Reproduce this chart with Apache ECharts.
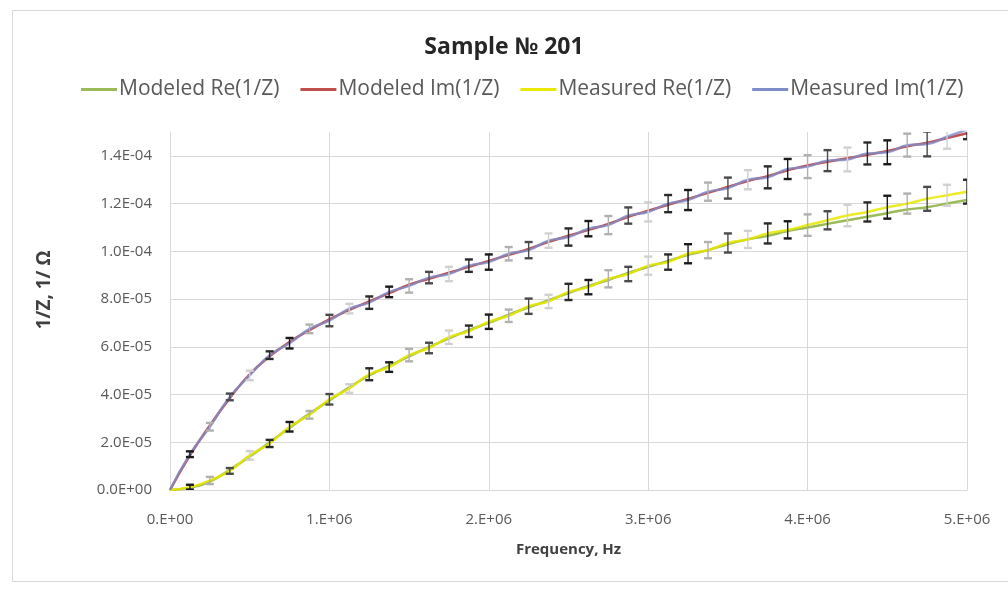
<!DOCTYPE html>
<html>
<head>
<meta charset="utf-8">
<script src="https://cdn.jsdelivr.net/npm/echarts@6/dist/echarts.min.js"></script>
<style>
html,body{margin:0;padding:0;background:#fff;}
#c{width:1008px;height:589px;}
</style>
</head>
<body>
<div id="c"></div>
<script>
// Frequency in MHz (axis labels show Hz in E notation)
const freq = [0,0.125,0.25,0.375,0.5,0.625,0.75,0.875,1,1.125,1.25,1.375,1.5,1.625,1.75,1.875,2,2.125,2.25,2.375,2.5,2.625,2.75,2.875,3,3.125,3.25,3.375,3.5,3.625,3.75,3.875,4,4.125,4.25,4.375,4.5,4.625,4.75,4.875,5];
// Values in units of 1e-5 (1/Ohm)
const modeledRe = [0,0.1,0.35,0.85,1.4,2.0,2.6,3.2,3.75,4.3,4.8,5.2,5.6,6.0,6.35,6.7,7.0,7.35,7.65,7.95,8.25,8.55,8.8,9.1,9.35,9.6,9.85,10.05,10.3,10.5,10.65,10.85,11.0,11.15,11.3,11.45,11.6,11.75,11.85,12.0,12.15];
const modeledIm = [0,1.45,2.7,3.85,4.85,5.6,6.2,6.7,7.15,7.55,7.9,8.25,8.6,8.85,9.1,9.35,9.6,9.85,10.1,10.4,10.65,10.9,11.15,11.45,11.7,11.95,12.2,12.45,12.7,12.95,13.15,13.4,13.6,13.75,13.9,14.05,14.2,14.4,14.55,14.75,14.95];
const measuredRe = [0,0.12,0.4,0.8,1.45,1.95,2.65,3.15,3.8,4.25,4.85,5.15,5.65,5.95,6.4,6.65,7.05,7.3,7.7,7.9,8.3,8.5,8.85,9.05,9.4,9.55,9.9,10.05,10.35,10.5,10.75,10.9,11.1,11.3,11.5,11.65,11.85,12.0,12.2,12.35,12.5];
const measuredIm = [0,1.5,2.65,3.9,4.8,5.65,6.15,6.75,7.1,7.6,7.85,8.3,8.55,8.9,9.05,9.4,9.55,9.9,10.05,10.45,10.6,10.95,11.1,11.5,11.65,12.0,12.15,12.5,12.65,13.0,13.1,13.45,13.55,13.8,13.85,14.1,14.15,14.45,14.5,14.8,15.1];
const errRe = [0,0.1,0.15,0.12,0.18,0.15,0.2,0.16,0.22,0.18,0.25,0.2,0.26,0.22,0.28,0.24,0.3,0.26,0.32,0.28,0.34,0.3,0.36,0.3,0.38,0.32,0.4,0.34,0.4,0.36,0.42,0.36,0.45,0.38,0.45,0.4,0.48,0.42,0.5,0.44,0.5];
const errIm = [0,0.12,0.16,0.14,0.2,0.16,0.22,0.18,0.24,0.2,0.26,0.22,0.28,0.24,0.3,0.26,0.32,0.28,0.34,0.3,0.36,0.32,0.38,0.34,0.4,0.36,0.42,0.38,0.44,0.4,0.46,0.42,0.48,0.44,0.5,0.46,0.5,0.48,0.52,0.5,0.4];
const seriesNames = ['Modeled Re(1/Z)','Modeled Im(1/Z)','Measured Re(1/Z)','Measured Im(1/Z)'];
const yTicks = {min:0, max:15, interval:2};
const xTicks = {min:0, max:5, interval:1};

function pairs(ys){ return freq.map((f,i)=>[f, ys[i]]); }
function bars(ys, es){ const out=[]; for(let i=1;i<freq.length;i++){ out.push([freq[i], ys[i]-es[i], ys[i]+es[i]]); } return out; }

function fmtY(v){
  const x = v*1e-5;
  if (Math.abs(x) < 1e-20) return '0.0E+00';
  let e = Math.floor(Math.log10(Math.abs(x))+1e-9);
  let m = x/Math.pow(10,e);
  let ms = m.toFixed(1);
  if (ms === '10.0'){ e+=1; ms='1.0'; }
  const es = (e<0?'-':'+') + String(Math.abs(e)).padStart(2,'0');
  return ms + 'E' + es;
}
function fmtX(v){
  const x = v*1e6;
  if (Math.abs(x) < 1e-9) return '0.E+00';
  const e = Math.floor(Math.log10(Math.abs(x))+1e-9);
  const m = Math.round(x/Math.pow(10,e));
  return m + '.E' + (e<0?'-':'+') + String(Math.abs(e)).padStart(2,'0');
}

const palette = ['#9bbb59','#c0504d','#e8e800','#7f8ccc'];
const barColors = ['#1a1a1a','#b0b0b0','#4a4a4a','#d0d0d0','#2a2a2a'];

function errRender(params, api){
  const x = api.value(0);
  const lo = api.coord([x, api.value(1)]);
  const hi = api.coord([x, api.value(2)]);
  const w = 4;
  const c = barColors[params.dataIndex % barColors.length];
  return {type:'group', children:[
    {type:'line', shape:{x1:lo[0],y1:lo[1],x2:hi[0],y2:hi[1]}, style:{stroke:c, lineWidth:1.4}},
    {type:'line', shape:{x1:lo[0]-w,y1:lo[1],x2:lo[0]+w,y2:lo[1]}, style:{stroke:c, lineWidth:2.4}},
    {type:'line', shape:{x1:hi[0]-w,y1:hi[1],x2:hi[0]+w,y2:hi[1]}, style:{stroke:c, lineWidth:2.4}}
  ]};
}

const FONT = 'Open Sans';
const chart = echarts.init(document.getElementById('c'), null, {renderer:'canvas'});
chart.setOption({
  animation:false,
  backgroundColor:'#ffffff',
  graphic:[{type:'rect', shape:{x:12.5,y:10.5,width:1010,height:571}, style:{fill:'none', stroke:'#d9d9d9', lineWidth:1}, z:-1}],
  title:{
    text:'Sample № 201', left:'center', top:31,
    textStyle:{fontFamily:FONT, fontSize:23, fontWeight:'bold', color:'#262626'}
  },
  legend:{
    data:seriesNames, top:74, left:76, itemGap:21, itemWidth:36, itemHeight:3, icon:'rect',
    textStyle:{fontFamily:FONT, fontSize:21, color:'#595959', padding:[0,0,0,-3]}
  },
  grid:{left:170, right:41, top:132, bottom:99, containLabel:false},
  xAxis:{
    type:'value', min:xTicks.min, max:xTicks.max, interval:xTicks.interval,
    name:'Frequency, Hz', nameLocation:'middle', nameGap:52,
    nameTextStyle:{fontFamily:FONT, fontSize:15, fontWeight:'bold', color:'#404040'},
    axisLine:{show:true, lineStyle:{color:'#d9d9d9'}}, axisTick:{show:false},
    axisLabel:{formatter:fmtX, margin:22, fontFamily:FONT, fontSize:15, color:'#595959'},
    splitLine:{show:true, lineStyle:{color:'#d9d9d9', width:1}}
  },
  yAxis:{
    type:'value', min:yTicks.min, max:yTicks.max, interval:yTicks.interval,
    name:'1/Z, 1/ Ω', nameLocation:'middle', nameGap:116,
    nameTextStyle:{fontFamily:FONT, fontSize:19, fontWeight:'bold', color:'#404040', padding:[0,0,0,42]},
    axisLine:{show:true, lineStyle:{color:'#d9d9d9'}}, axisTick:{show:false},
    axisLabel:{formatter:fmtY, margin:18, fontFamily:FONT, fontSize:15, color:'#595959', showMaxLabel:false},
    splitLine:{show:true, showMaxLine:false, lineStyle:{color:'#d9d9d9', width:1}}
  },
  series:[
    {name:seriesNames[0], type:'line', data:pairs(modeledRe), showSymbol:false, smooth:true, lineStyle:{width:2.5, color:palette[0]}, itemStyle:{color:palette[0]}, z:2},
    {name:seriesNames[1], type:'line', data:pairs(modeledIm), showSymbol:false, smooth:true, lineStyle:{width:2.5, color:palette[1]}, itemStyle:{color:palette[1]}, z:2},
    {name:seriesNames[2], type:'line', data:pairs(measuredRe), showSymbol:false, smooth:true, lineStyle:{width:2.5, color:palette[2], opacity:0.85}, itemStyle:{color:palette[2]}, z:3},
    {name:seriesNames[3], type:'line', data:pairs(measuredIm), showSymbol:false, smooth:true, lineStyle:{width:2.5, color:palette[3], opacity:0.8}, itemStyle:{color:palette[3]}, z:3},
    {name:'errRe', type:'custom', data:bars(measuredRe, errRe), renderItem:errRender, encode:{x:0, y:[1,2]}, z:4, clip:true},
    {name:'errIm', type:'custom', data:bars(measuredIm, errIm), renderItem:errRender, encode:{x:0, y:[1,2]}, z:4, clip:true}
  ]
});
</script>
</body>
</html>
